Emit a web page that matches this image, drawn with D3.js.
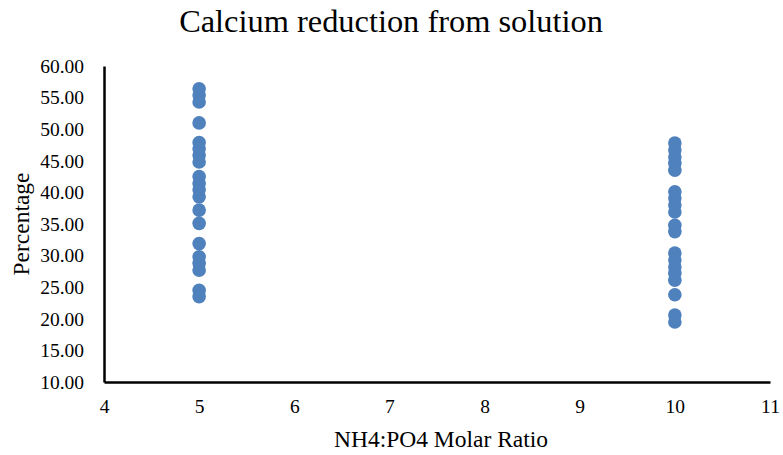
<!DOCTYPE html>
<html><head><meta charset="utf-8">
<script src="https://cdn.jsdelivr.net/npm/d3@7"></script>
<style>body{margin:0;background:#fff}svg{display:block}</style>
</head><body>
<script>
const ratio5 = [56.4,55.4,54.3,51.0,47.9,46.9,45.9,44.8,42.5,41.4,40.4,39.3,37.2,35.1,31.9,29.8,28.8,27.7,24.5,23.5];
const ratio10 = [47.8,46.7,45.6,44.6,43.5,40.1,39.1,38.0,36.9,34.8,33.8,30.4,29.3,28.2,27.2,26.1,23.8,20.6,19.5];
const xTicks = [4,5,6,7,8,9,10,11];
const yTicks = [10,15,20,25,30,35,40,45,50,55,60];
const title = "Calcium reduction from solution";
const xTitle = "NH4:PO4 Molar Ratio";
const yTitle = "Percentage";

const W=783,H=455;
const svg=d3.select("body").append("svg").attr("width",W).attr("height",H);
const x=d3.scaleLinear().domain([4,11]).range([104,770]);
const y=d3.scaleLinear().domain([10,60]).range([382,66]);
const font="'Liberation Serif','Times New Roman',serif";

svg.append("text").attr("x",391).attr("y",32).attr("text-anchor","middle")
  .attr("font-family",font).attr("font-size",32.4).attr("fill","#000").text(title);

const pts=[...ratio5.map(v=>({x:5,y:v})),...ratio10.map(v=>({x:10,y:v}))];
svg.append("g").selectAll("circle").data(pts).join("circle")
  .attr("cx",d=>x(d.x)).attr("cy",d=>y(d.y)).attr("r",6.8).attr("fill","#4f81bd");

const ya=svg.append("g").attr("transform","translate(104,0)")
  .call(d3.axisLeft(y).tickValues(yTicks).tickFormat(d3.format(".2f")).tickSize(0).tickPadding(20));
ya.select(".domain").attr("stroke","#000").attr("stroke-width",2.5);
ya.selectAll("text").attr("font-family",font).attr("font-size",19.5).attr("fill","#000");

const xa=svg.append("g").attr("transform","translate(0,382)")
  .call(d3.axisBottom(x).tickValues(xTicks).tickFormat(d3.format("d")).tickSize(0).tickPadding(17));
xa.select(".domain").attr("stroke","#000").attr("stroke-width",2.5);
xa.selectAll("text").attr("font-family",font).attr("font-size",19.5).attr("fill","#000");

svg.append("text").attr("x",441).attr("y",447).attr("text-anchor","middle")
  .attr("font-family",font).attr("font-size",23.5).attr("fill","#000").text(xTitle);
svg.append("text").attr("transform","translate(29,224) rotate(-90)").attr("text-anchor","middle")
  .attr("font-family",font).attr("font-size",23.5).attr("fill","#000").text(yTitle);
</script>
</body></html>
